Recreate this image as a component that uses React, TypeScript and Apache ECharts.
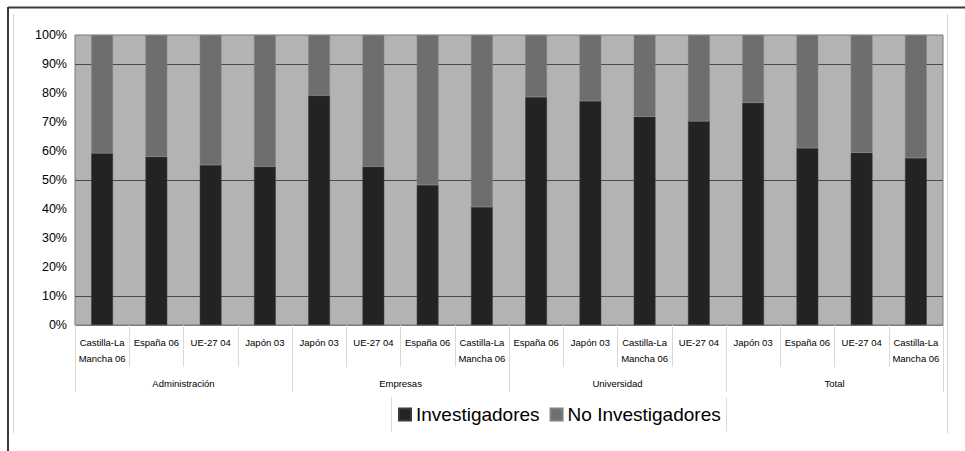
import React, { useEffect, useRef } from "react";
import * as echarts from "echarts";

const categories = [
  "Castilla-La\nMancha 06", "España 06", "UE-27 04", "Japón 03",
  "Japón 03", "UE-27 04", "España 06", "Castilla-La\nMancha 06",
  "España 06", "Japón 03", "Castilla-La\nMancha 06", "UE-27 04",
  "Japón 03", "España 06", "UE-27 04", "Castilla-La\nMancha 06",
];
const groups = ["Administración", "Empresas", "Universidad", "Total"];
const investigadores = [59.2, 58.0, 55.2, 54.6, 79.1, 54.6, 48.3, 40.7, 78.6, 77.2, 71.8, 70.3, 76.6, 61.0, 59.4, 57.6];
const noInvestigadores = [40.8, 42.0, 44.8, 45.4, 20.9, 45.4, 51.7, 59.3, 21.4, 22.8, 28.2, 29.7, 23.4, 39.0, 40.6, 42.4];
const seriesNames = ["Investigadores", "No Investigadores"];

const FONT = "'Liberation Sans', Arial, sans-serif";

export default function App() {
  const ref = useRef<HTMLDivElement>(null);
  useEffect(() => {
    if (!ref.current) return;
    const chart = echarts.init(ref.current, null, { renderer: "svg" });
    chart.setOption({
      animation: false,
      backgroundColor: "#ffffff",
      grid: {
        left: 75, right: 22, top: 35, bottom: 126,
        show: true, backgroundColor: "#b3b3b3", borderColor: "#7a7a7a", borderWidth: 1,
      },
      legend: {
        data: seriesNames,
        left: 398, top: 405, padding: 0,
        itemWidth: 12, itemHeight: 12, itemGap: 10,
        icon: "rect",
        textStyle: { fontFamily: FONT, fontSize: 19, color: "#000" },
      },
      xAxis: [
        {
          type: "category", data: categories, position: "bottom",
          axisLine: { show: true, lineStyle: { color: "#7a7a7a" } },
          axisTick: { show: true, interval: 0, length: 42, lineStyle: { color: "#d9d9d9" } },
          axisLabel: { interval: 0, fontSize: 9.5, lineHeight: 16, margin: 9, color: "#000", fontFamily: FONT },
        },
        {
          type: "category", data: groups, position: "bottom",
          axisLine: { show: false },
          axisTick: { show: true, interval: 0, length: 67, lineStyle: { color: "#d9d9d9" } },
          axisLabel: { interval: 0, fontSize: 9.5, lineHeight: 16, margin: 50, color: "#000", fontFamily: FONT },
        },
      ],
      yAxis: {
        type: "value", min: 0, max: 100, interval: 10,
        axisLabel: { formatter: "{value}%", fontSize: 12.5, color: "#000", margin: 8, fontFamily: FONT },
        axisLine: { show: false },
        axisTick: { show: false },
        splitLine: {
          show: true, showMinLine: true, showMaxLine: true,
          lineStyle: { color: ["transparent", "#4a4a4a", "transparent", "transparent"], width: 1 },
        },
      },
      series: [
        {
          name: seriesNames[0], type: "bar", stack: "s", data: investigadores, barWidth: "40%",
          xAxisIndex: 0, itemStyle: { color: "#232323", borderColor: "#3a3a3a", borderWidth: 0.5 },
        },
        {
          name: seriesNames[1], type: "bar", stack: "s", data: noInvestigadores, barWidth: "40%",
          xAxisIndex: 0, itemStyle: { color: "#6e6e6e", borderColor: "#808080", borderWidth: 0.5 },
        },
      ],
      graphic: [
        { type: "line", shape: { x1: 8, y1: 7.5, x2: 965, y2: 7.5 }, style: { stroke: "#3a3a3a", lineWidth: 2 } },
        { type: "line", shape: { x1: 8, y1: 7, x2: 8, y2: 451 }, style: { stroke: "#3a3a3a", lineWidth: 2 } },
        { type: "line", shape: { x1: 13.5, y1: 14, x2: 13.5, y2: 433 }, style: { stroke: "#d4d4d4", lineWidth: 1 } },
        { type: "line", shape: { x1: 947.5, y1: 14, x2: 947.5, y2: 433 }, style: { stroke: "#d4d4d4", lineWidth: 1 } },
        { type: "line", shape: { x1: 391.5, y1: 397, x2: 391.5, y2: 432 }, style: { stroke: "#dcdcdc", lineWidth: 1 } },
        { type: "line", shape: { x1: 726.5, y1: 397, x2: 726.5, y2: 432 }, style: { stroke: "#dcdcdc", lineWidth: 1 } },
      ],
    });
    return () => chart.dispose();
  }, []);
  return <div ref={ref} style={{ position: "absolute", left: 0, top: 0, width: 965, height: 451 }} />;
}
